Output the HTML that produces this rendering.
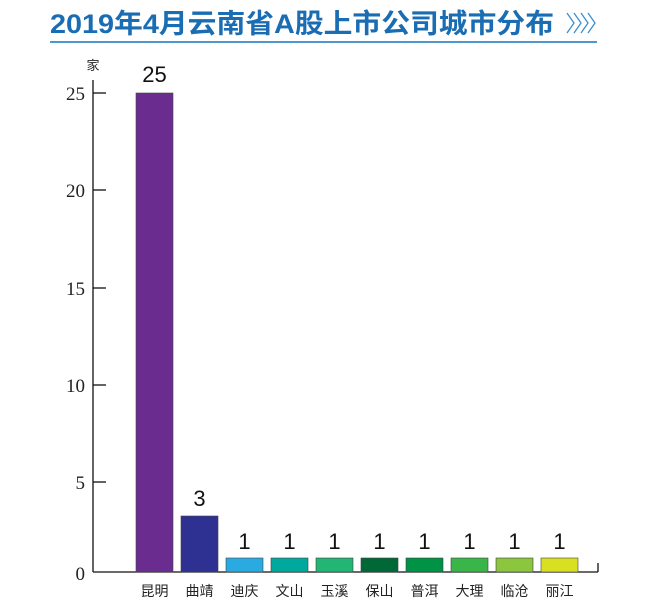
<!DOCTYPE html>
<html><head><meta charset="utf-8"><style>
body{margin:0;background:#fff;}
svg{display:block;}
</style></head><body>
<svg width="647" height="606" xmlns="http://www.w3.org/2000/svg">
<rect width="647" height="606" fill="#fff"/>
<text x="50" y="33" font-family="Liberation Sans, 'Noto Sans CJK SC', sans-serif" font-size="27" font-weight="bold" fill="#1a6db3" textLength="504" lengthAdjust="spacingAndGlyphs">2019年4月云南省A股上市公司城市分布</text>
<g fill="none" stroke="#3a8fd0" stroke-width="1.3">
<polyline points="567,13 574,23 567,33"/>
<polyline points="574,13 581,23 574,33"/>
<polyline points="581,13 588,23 581,33"/>
<polyline points="588,13 595,23 588,33"/>
</g>
<line x1="50" y1="42" x2="597" y2="42" stroke="#4f97cf" stroke-width="2"/>
<g font-family="Liberation Serif, serif" font-size="19" fill="#222" text-anchor="end">
<text x="85" y="100">25</text><text x="85" y="197">20</text><text x="85" y="295">15</text>
<text x="85" y="392">10</text><text x="85" y="489">5</text><text x="85" y="580">0</text>
</g>
<text x="93" y="70" font-family="'Noto Sans CJK SC', sans-serif" font-size="13" fill="#222" text-anchor="middle">家</text>
<g stroke="#111" stroke-width="1.3">
<line x1="93" y1="80" x2="93" y2="572"/>
<line x1="93" y1="572" x2="598" y2="572"/>
<line x1="598" y1="572" x2="598" y2="563"/>
<line x1="93" y1="93" x2="106" y2="93"/>
<line x1="93" y1="190" x2="106" y2="190"/>
<line x1="93" y1="288" x2="106" y2="288"/>
<line x1="93" y1="385" x2="106" y2="385"/>
<line x1="93" y1="482" x2="106" y2="482"/>
</g>
<g stroke="#444" stroke-width="0.6">
<rect x="136" y="93" width="37" height="479" fill="#6a2d8f"/>
<rect x="181" y="516" width="37" height="56" fill="#2e3192"/>
<rect x="226" y="558" width="37" height="14" fill="#29abe2"/>
<rect x="271" y="558" width="37" height="14" fill="#00a99d"/>
<rect x="316" y="558" width="37" height="14" fill="#22b573"/>
<rect x="361" y="558" width="37" height="14" fill="#006837"/>
<rect x="406" y="558" width="37" height="14" fill="#009245"/>
<rect x="451" y="558" width="37" height="14" fill="#39b54a"/>
<rect x="496" y="558" width="37" height="14" fill="#8cc63f"/>
<rect x="541" y="558" width="37" height="14" fill="#d9e021"/>
</g>
<g font-family="Liberation Sans, sans-serif" font-size="22" fill="#111" text-anchor="middle">
<text x="154.5" y="82">25</text><text x="199.5" y="506">3</text>
<text x="244.5" y="549">1</text><text x="289.5" y="549">1</text><text x="334.5" y="549">1</text>
<text x="379.5" y="549">1</text><text x="424.5" y="549">1</text><text x="469.5" y="549">1</text>
<text x="514.5" y="549">1</text><text x="559.5" y="549">1</text>
</g>
<g font-family="'Noto Sans CJK SC', sans-serif" font-size="14" fill="#222" text-anchor="middle">
<text x="154.5" y="596">昆明</text><text x="199.5" y="596">曲靖</text><text x="244.5" y="596">迪庆</text>
<text x="289.5" y="596">文山</text><text x="334.5" y="596">玉溪</text><text x="379.5" y="596">保山</text>
<text x="424.5" y="596">普洱</text><text x="469.5" y="596">大理</text><text x="514.5" y="596">临沧</text>
<text x="559.5" y="596">丽江</text>
</g>
</svg>
</body></html>
